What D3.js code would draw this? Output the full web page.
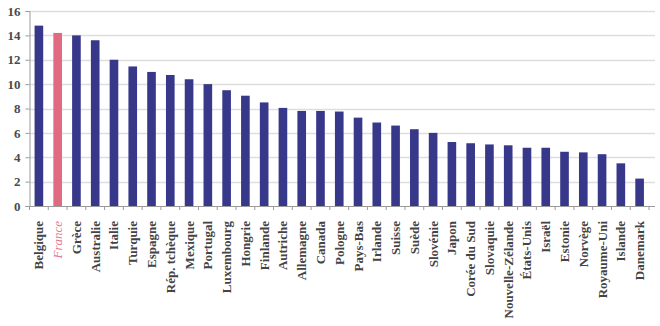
<!DOCTYPE html>
<html>
<head>
<meta charset="utf-8">
<script src="https://cdn.jsdelivr.net/npm/d3@7"></script>
<style>
  html, body { margin: 0; padding: 0; background: #fff; }
  svg { display: block; }
</style>
</head>
<body>
<svg id="chart" width="660" height="326"></svg>
<script>
// Countries, in display order
const countries = [
  "Belgique", "France", "Grèce", "Australie", "Italie", "Turquie", "Espagne",
  "Rép. tchèque", "Mexique", "Portugal", "Luxembourg", "Hongrie", "Finlande",
  "Autriche", "Allemagne", "Canada", "Pologne", "Pays-Bas", "Irlande", "Suisse",
  "Suède", "Slovénie", "Japon", "Corée du Sud", "Slovaquie", "Nouvelle-Zélande",
  "États-Unis", "Israël", "Estonie", "Norvège", "Royaume-Uni", "Islande", "Danemark"
];

// One value per country
const values = [
  14.8, 14.2, 14.0, 13.6, 12.0, 11.45, 11.0,
  10.75, 10.4, 10.0, 9.5, 9.05, 8.5,
  8.05, 7.8, 7.8, 7.75, 7.25, 6.85, 6.6,
  6.3, 6.0, 5.25, 5.15, 5.05, 4.98,
  4.78, 4.78, 4.45, 4.4, 4.25, 3.5, 2.25
];

// Country shown in the highlight colour
const highlight = "France";

// Y-axis ticks
const yTicks = [0, 2, 4, 6, 8, 10, 12, 14, 16];

(function draw() {
  const svg = d3.select("#chart");
  const mLeft = 29.5, mRight = 649, gridRight = 655;
  const mTop = 11, mBottom = 206;

  const x = d3.scaleBand()
    .domain(countries)
    .range([mLeft, mRight])
    .paddingInner(0.54)
    .paddingOuter(0.27);

  const y = d3.scaleLinear().domain([0, 16]).range([mBottom, mTop]);

  const data = countries.map((c, i) => ({ country: c, value: values[i] }));

  // Horizontal gridlines
  svg.append("g")
    .selectAll("line")
    .data(yTicks.filter(t => t > 0))
    .join("line")
    .attr("x1", mLeft)
    .attr("x2", gridRight)
    .attr("y1", d => Math.round(y(d)) + 0.5)
    .attr("y2", d => Math.round(y(d)) + 0.5)
    .attr("stroke", "#dedede")
    .attr("stroke-width", 1.3);

  // Bars
  svg.append("g")
    .selectAll("rect")
    .data(data)
    .join("rect")
    .attr("x", d => x(d.country))
    .attr("width", x.bandwidth())
    .attr("y", d => y(d.value))
    .attr("height", d => y(0) - y(d.value))
    .attr("fill", d => d.country === highlight ? "#e06a82" : "#38388a");

  // Y axis
  const yAxis = svg.append("g")
    .attr("transform", `translate(${mLeft},0)`)
    .call(d3.axisLeft(y).tickValues(yTicks).tickSize(4).tickPadding(5));
  yAxis.select(".domain").attr("stroke", "#9a9a9a");
  yAxis.selectAll(".tick line").attr("stroke", "#9a9a9a");
  yAxis.selectAll(".tick text")
    .attr("fill", "#4a4a4a")
    .style("font-family", "'Liberation Serif', 'DejaVu Serif', serif")
    .style("font-weight", "bold")
    .style("font-size", "13px");

  // X axis baseline with ticks at band boundaries
  const step = x.step();
  const start = x(countries[0]) - x.paddingOuter() * step;
  const xAxisG = svg.append("g");
  xAxisG.append("line")
    .attr("x1", mLeft).attr("x2", gridRight)
    .attr("y1", mBottom + 0.5).attr("y2", mBottom + 0.5)
    .attr("stroke", "#9a9a9a");
  xAxisG.selectAll("line.tk")
    .data(d3.range(countries.length + 1))
    .join("line")
    .attr("class", "tk")
    .attr("x1", i => start + i * step)
    .attr("x2", i => start + i * step)
    .attr("y1", mBottom)
    .attr("y2", mBottom + 4)
    .attr("stroke", "#9a9a9a");

  // Rotated category labels
  xAxisG.selectAll("text")
    .data(countries)
    .join("text")
    .attr("transform", d => `translate(${x(d) + x.bandwidth() / 2 + 4.5},${mBottom + 15}) rotate(-90)`)
    .attr("text-anchor", "end")
    .attr("fill", d => d === highlight ? "#e27a90" : "#444")
    .style("font-family", "'Liberation Serif', 'DejaVu Serif', serif")
    .style("font-weight", d => d === highlight ? "normal" : "bold")
    .style("font-style", d => d === highlight ? "italic" : "normal")
    .style("font-size", "13px")
    .text(d => d);
})();
</script>
</body>
</html>
